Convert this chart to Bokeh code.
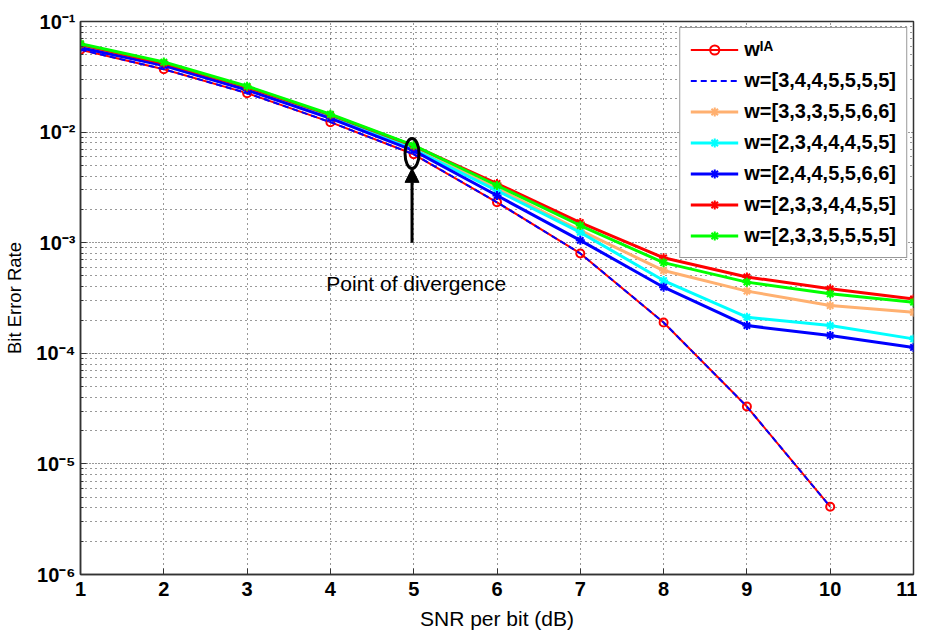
from bokeh.plotting import figure
from bokeh.models import (Arrow, NormalHead, CustomJSTickFormatter, FixedTicker, Label)
from bokeh.embed import file_html
from bokeh.resources import INLINE

# ---------------- data ----------------
snr = [1, 2, 3, 4, 5, 6, 7, 8, 9, 10, 11]
snr_ia = [1, 2, 3, 4, 5, 6, 7, 8, 9, 10]

ber_ia = [0.0555, 0.037, 0.0225, 0.0123, 0.0063, 0.00232, 0.00080, 0.00019, 3.3e-5, 4.1e-6]
ber_3445555 = [0.0555, 0.037, 0.0225, 0.0123, 0.0063, 0.00232, 0.00080, 0.00019, 3.3e-5, 4.1e-6]
ber_3335566 = [0.061, 0.0415, 0.025, 0.0140, 0.0072, 0.00309, 0.00129, 0.00056, 0.000365, 0.00027, 0.000235]
ber_2344455 = [0.060, 0.041, 0.0245, 0.0137, 0.0070, 0.00296, 0.00124, 0.000455, 0.000212, 0.000178, 0.000135]
ber_2445566 = [0.058, 0.040, 0.024, 0.0133, 0.0068, 0.00267, 0.00105, 0.000396, 0.000178, 0.000145, 0.000113]
ber_2334455 = [0.062, 0.042, 0.0255, 0.0143, 0.0075, 0.00343, 0.00152, 0.00073, 0.00049, 0.000383, 0.00031]
ber_2335555 = [0.063, 0.043, 0.026, 0.0145, 0.0076, 0.00329, 0.00143, 0.00066, 0.00044, 0.000345, 0.00029]

labels = ["w\u1d35\u1d2c", "w=[3,4,4,5,5,5,5]", "w=[3,3,3,5,5,6,6]", "w=[2,3,4,4,4,5,5]",
          "w=[2,4,4,5,5,6,6]", "w=[2,3,3,4,4,5,5]", "w=[2,3,3,5,5,5,5]"]

x_ticks = [1, 2, 3, 4, 5, 6, 7, 8, 9, 10, 11]
y_ticks = [1e-6, 1e-5, 1e-4, 1e-3, 1e-2, 1e-1]

annot_x = 4.98
annot_ellipse_y = 0.0064
arrow_from_y = 1e-3
arrow_to_y = 0.0047
annot_text = "Point of divergence"
annot_text_x = 5.03
annot_text_y = 4.3e-4

FONT = "Liberation Sans"

p = figure(width=917, height=633, x_range=(1, 11), y_range=(1e-6, 1e-1),
           y_axis_type="log", output_backend="svg", toolbar_location=None,
           min_border_left=80, min_border_top=21, min_border_right=4, min_border_bottom=59,
           background_fill_color="white", border_fill_color="white")

# axes
p.xaxis.ticker = FixedTicker(ticks=x_ticks)
minor = [m * d for d in y_ticks[:-1] for m in range(2, 10)]
p.yaxis.ticker = FixedTicker(ticks=y_ticks, minor_ticks=minor)
p.yaxis.formatter = CustomJSTickFormatter(code="""
const e = Math.round(Math.log10(tick));
const m = {'-':'\u207b','0':'\u2070','1':'\u00b9','2':'\u00b2','3':'\u00b3','4':'\u2074','5':'\u2075','6':'\u2076','7':'\u2077','8':'\u2078','9':'\u2079'};
return '10' + String(e).split('').map(c => m[c]).join('');
""")
for ax in (p.xaxis[0], p.yaxis[0]):
    ax.major_tick_in = 6
    ax.major_tick_out = 0
    ax.minor_tick_in = 3
    ax.minor_tick_out = 0
    ax.axis_line_color = "#333333"
    ax.axis_line_width = 1.5
    ax.major_tick_line_color = "#333333"
    ax.minor_tick_line_color = "#333333"
    ax.major_label_text_font = FONT
    ax.major_label_text_font_size = "20px"
    ax.major_label_text_font_style = "bold"
    ax.major_label_text_color = "black"
    ax.axis_label_text_font = FONT
    ax.axis_label_text_font_style = "normal"
    ax.axis_label_text_color = "black"
p.xaxis.axis_label_text_font_size = "21px"
p.yaxis.axis_label_text_font_size = "18.5px"
p.xaxis.minor_tick_line_color = None
p.xaxis.axis_label = "SNR per bit (dB)"
p.yaxis.axis_label = "Bit Error Rate"
p.xaxis.major_label_standoff = 7
p.xaxis.axis_label_standoff = 8
p.yaxis.major_label_standoff = 5
p.yaxis.axis_label_standoff = 8

p.outline_line_color = "#333333"
p.outline_line_width = 1.5

# grids
p.xgrid.grid_line_color = "black"
p.xgrid.grid_line_dash = "1 4"
p.xgrid.grid_line_alpha = 0.8
p.ygrid.grid_line_color = "black"
p.ygrid.grid_line_dash = "1 2"
p.ygrid.grid_line_alpha = 0.8
p.ygrid.minor_grid_line_color = "black"
p.ygrid.minor_grid_line_dash = "1 4"
p.ygrid.minor_grid_line_alpha = 0.8

# series
p.line(snr_ia, ber_ia, line_color="#ff0000", line_width=2, legend_label=labels[0])
p.scatter(snr_ia, ber_ia, marker="circle", size=8, line_color="#ff0000", fill_color=None,
          line_width=2, legend_label=labels[0])
p.line(snr_ia, ber_3445555, line_color="#0000ff", line_width=2, line_dash="6 4", legend_label=labels[1])

series = [
    (ber_3335566, "#ffb070", labels[2]),
    (ber_2344455, "#00ffff", labels[3]),
    (ber_2445566, "#0000ff", labels[4]),
    (ber_2334455, "#ff0000", labels[5]),
    (ber_2335555, "#00ff00", labels[6]),
]
for ys, col, lab in series:
    p.line(snr, ys, line_color=col, line_width=3, legend_label=lab)
    p.scatter(snr, ys, marker="asterisk", size=9, line_color=col, line_width=2, legend_label=lab)

# annotation
p.ellipse(x=[annot_x], y=[annot_ellipse_y], width=14, height=30, width_units="screen",
          height_units="screen", fill_color=None, line_color="black", line_width=3)
p.add_layout(Arrow(end=NormalHead(size=14, fill_color="black", line_color="black"),
                   x_start=annot_x, y_start=arrow_from_y, x_end=annot_x, y_end=arrow_to_y,
                   line_color="black", line_width=3))
p.add_layout(Label(x=annot_text_x, y=annot_text_y, text=annot_text, text_align="center",
                   text_baseline="middle", text_font=FONT, text_font_size="21px",
                   text_color="black"))

# legend
lg = p.legend[0]
lg.location = "top_right"
lg.margin = 6
lg.padding = 10
lg.spacing = 8
lg.border_line_color = "#333333"
lg.border_line_width = 1.5
lg.background_fill_color = "white"
lg.background_fill_alpha = 1.0
lg.label_text_font = FONT
lg.label_text_font_size = "20px"
lg.label_text_font_style = "bold"
lg.label_text_color = "black"
lg.glyph_width = 48
lg.glyph_height = 23
lg.label_height = 23
lg.label_standoff = 6

open("out.html", "w").write(file_html(p, INLINE))
